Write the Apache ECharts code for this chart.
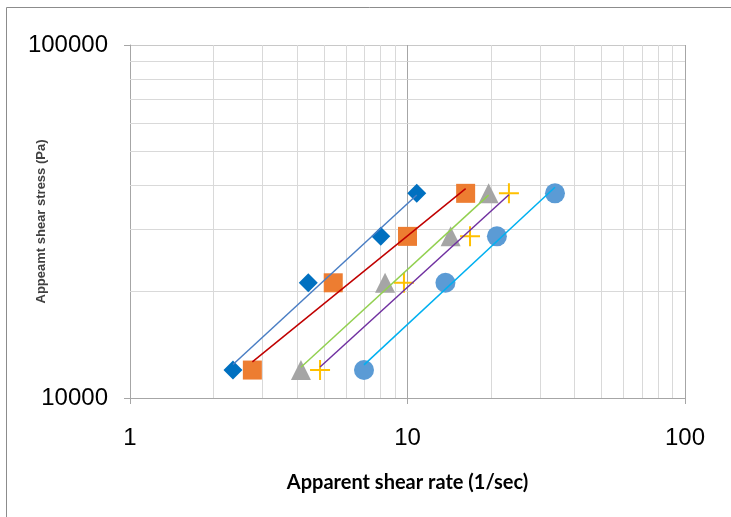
<!DOCTYPE html>
<html>
<head>
<meta charset="utf-8">
<script src="https://cdn.jsdelivr.net/npm/echarts@6/dist/echarts.min.js"></script>
<style>html,body{margin:0;padding:0;background:#fff}#c{width:731px;height:517px}</style>
</head>
<body>
<div id="c"></div>
<script>
// Apparent shear stress levels (Pa), shared by all series
const stress = [12000, 21200, 28700, 38000];
// Apparent shear rate (1/sec) for each series
const rateDiamond = [2.35, 4.39, 8.01, 10.8];
const rateSquare = [2.76, 5.40, 10.0, 16.2];
const rateTriangle = [4.13, 8.30, 14.3, 19.6];
const ratePlus = [4.84, 9.71, 16.8, 23.2];
const rateCircle = [6.97, 13.7, 21.0, 34.0];
// Axis ticks
const xMinorTicks = [2,3,4,5,6,7,8,9,20,30,40,50,60,70,80,90];
const yMinorTicks = [20000,30000,40000,50000,60000,70000,80000,90000];

const seriesDefs = [
  {rates: rateDiamond, symbol: 'diamond', size: 19, color: '#0070C0', line: '#4A7EC4'},
  {rates: rateSquare, symbol: 'rect', size: 19, color: '#ED7D31', line: '#C00000'},
  {rates: rateTriangle, symbol: 'triangle', size: 20, color: '#A5A5A5', line: '#92D050'},
  {rates: ratePlus, symbol: 'path://M9,0h2v9h9v2h-9v9h-2v-9h-9v-2h9z', size: 20, color: '#FFC000', line: '#7030A0'},
  {rates: rateCircle, symbol: 'circle', size: 20, color: '#5B9BD5', line: '#00B0F0'}
];

function powerFit(xs, ys) {
  const lx = xs.map(Math.log10), ly = ys.map(Math.log10);
  const n = lx.length;
  const mx = lx.reduce((a,b)=>a+b,0)/n, my = ly.reduce((a,b)=>a+b,0)/n;
  let sxy = 0, sxx = 0;
  for (let i = 0; i < n; i++) { sxy += (lx[i]-mx)*(ly[i]-my); sxx += (lx[i]-mx)*(lx[i]-mx); }
  const b = sxy/sxx, a = my - b*mx;
  const x0 = Math.min(...xs), x1 = Math.max(...xs);
  return [[x0, Math.pow(10, a + b*Math.log10(x0))], [x1, Math.pow(10, a + b*Math.log10(x1))]];
}

const series = [];
seriesDefs.forEach((d, i) => {
  series.push({
    type: 'scatter', z: 2, symbol: d.symbol, symbolSize: d.size,
    itemStyle: {color: d.color, opacity: 1},
    data: d.rates.map((r, k) => [r, stress[k]]),
    silent: true
  });
  series.push({
    type: 'line', z: 3, symbol: 'none', silent: true,
    lineStyle: {color: d.line, width: 1.5},
    data: powerFit(d.rates, stress)
  });
});
// minor grid lines
series.push({
  type: 'scatter', data: [], silent: true,
  markLine: {
    z: 1, silent: true, symbol: 'none', animation: false,
    label: {show: false},
    lineStyle: {color: '#D9D9D9', width: 1, type: 'solid'},
    data: xMinorTicks.map(v => ({xAxis: v})).concat(yMinorTicks.map(v => ({yAxis: v})))
  }
});

const chart = echarts.init(document.getElementById('c'), null, {renderer: 'canvas'});
chart.setOption({
  animation: false,
  backgroundColor: '#fff',
  graphic: [{
    type: 'rect', silent: true, z: -10,
    shape: {x: 6.5, y: 7.5, width: 900, height: 700},
    style: {fill: 'none', stroke: '#8C8C8C', lineWidth: 1}
  }],
  grid: {left: 130, top: 45, width: 555, height: 353, containLabel: false},
  xAxis: {
    type: 'log', logBase: 10, min: 1, max: 100,
    name: 'Apparent shear rate (1/sec)', nameLocation: 'middle', nameGap: 75,
    nameMoveOverlap: false,
    nameTextStyle: {fontFamily: 'Lato', fontWeight: 'bold', fontSize: 20, color: '#000'},
    axisLine: {lineStyle: {color: '#A6A6A6', width: 1}},
    axisTick: {show: true, length: 6, lineStyle: {color: '#A6A6A6'}},
    axisLabel: {fontFamily: 'Liberation Sans', fontSize: 24, color: '#000', margin: 28,
      formatter: v => String(Math.round(v))},
    splitLine: {show: true, lineStyle: {color: '#A6A6A6', width: 1}}
  },
  yAxis: {
    type: 'log', logBase: 10, min: 10000, max: 100000,
    name: 'Appeamt shear stress (Pa)', nameLocation: 'middle', nameGap: 82,
    nameMoveOverlap: false,
    nameTextStyle: {fontFamily: 'Liberation Sans', fontWeight: 'bold', fontSize: 13, color: '#404040'},
    axisLine: {show: true, lineStyle: {color: '#A6A6A6', width: 1}},
    axisTick: {show: true, length: 6, lineStyle: {color: '#A6A6A6'}},
    axisLabel: {fontFamily: 'Liberation Sans', fontSize: 24, color: '#000', margin: 22,
      formatter: v => String(Math.round(v))},
    splitLine: {show: true, lineStyle: {color: '#C8C8C8', width: 1}}
  },
  series: series
});
</script>
</body>
</html>
